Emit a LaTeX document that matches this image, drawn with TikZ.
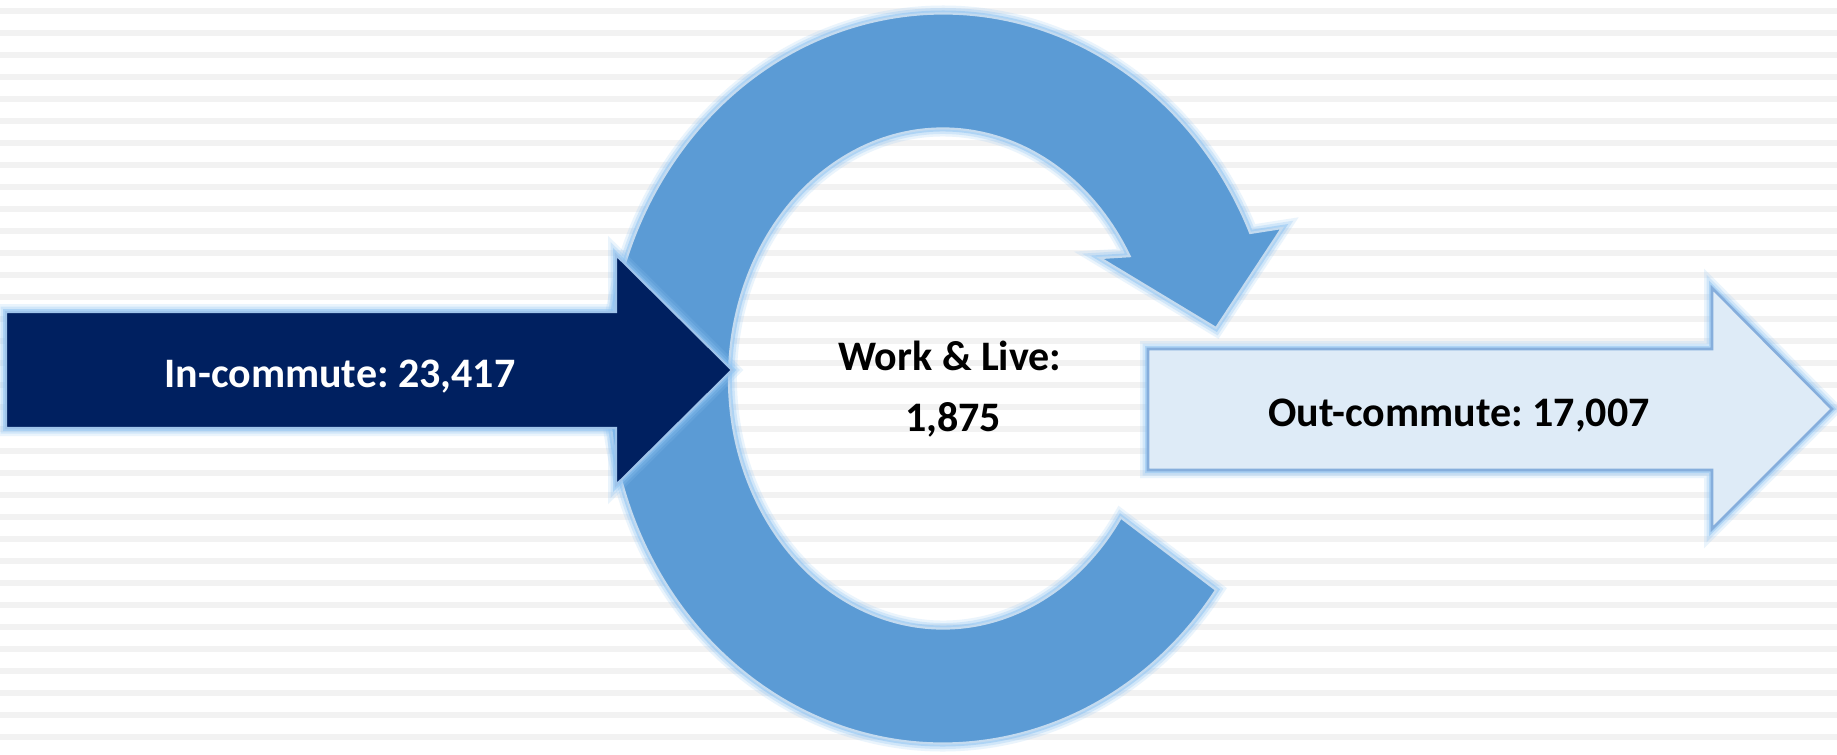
\documentclass[tikz,border=0pt]{standalone}
\usepackage{fontspec}
\setmainfont{Carlito}
\usetikzlibrary{calc}
\frenchspacing
\definecolor{stripe}{HTML}{F2F2F2}
\definecolor{navy}{HTML}{002060}
\definecolor{ringblue}{HTML}{5B9BD5}
\definecolor{paleblue}{HTML}{DEEBF7}
\definecolor{glowblue}{HTML}{8EC3F2}
\definecolor{edgeblue}{HTML}{C3DAEF}
\definecolor{navyedge}{HTML}{9FC4EA}
\definecolor{outedge}{HTML}{86AEDC}
\begin{document}
\begin{tikzpicture}[x=0.5pt,y=-0.5pt,
  glowwide/.style={draw=glowblue, line width=8pt, draw opacity=0.18, line join=miter},
  glowmid/.style={draw=glowblue, line width=5.5pt, draw opacity=0.28, line join=miter},
  glownarrow/.style={draw=glowblue, line width=3pt, draw opacity=0.5, line join=miter},
  ringfill/.style={fill=ringblue, draw=edgeblue, line width=1.1pt, line join=miter},
  infill/.style={fill=navy, draw=navyedge, line width=1.1pt, line join=miter},
  outfill/.style={fill=paleblue, draw=outedge, line width=1.3pt, line join=miter},
  label/.style={font=\bfseries\fontsize{21}{25}\selectfont, inner sep=0pt, anchor=base}]
\useasboundingbox (0,0) rectangle (1837,755);
\fill[white] (0,0) rectangle (1837,755);
% background stripes
\foreach \k in {0,...,33}
  \fill[stripe] (0,8+22*\k) rectangle (1837,14+22*\k);

\coordinate (C) at (943,378.5);
\def\ringpath{(C) ++(35.4:335 and 365)
  arc[start angle=35.4, end angle=336.5, x radius=335, y radius=365]
  -- (1282,228) -- (1216,328) -- (1100,258)
  -- ($(C)+(330.7:214 and 250)$)
  arc[start angle=330.7, end angle=33.8, x radius=214, y radius=250] -- cycle}
\def\outpath{(1148,349) -- (1712,349) -- (1712,288) -- (1832,409) -- (1712,529) -- (1712,470) -- (1148,470) -- cycle}
\def\inpath{(6,312) -- (616,312) -- (616,255) -- (732,370) -- (616,485) -- (616,428) -- (6,428) -- cycle}

% circular arrow
\path[glowwide] \ringpath;
\path[glowmid] \ringpath;
\path[glownarrow] \ringpath;
\path[ringfill] \ringpath;

% out-commute arrow
\path[glowwide] \outpath;
\path[glowmid] \outpath;
\path[glownarrow] \outpath;
\path[outfill] \outpath;

% in-commute arrow
\path[glowwide] \inpath;
\path[glowmid] \inpath;
\path[glownarrow] \inpath;
\path[infill] \inpath;

\node[label, text=white] (incommute) at (340,387) {In-commute: 23,417};
\node[label] (worklive) at (950,370) {Work \& Live:};
\node[label] (workliveval) at (953,431) {1,875};
\node[label] (outcommute) at (1459,426) {Out-commute: 17,007};
\end{tikzpicture}
\end{document}
